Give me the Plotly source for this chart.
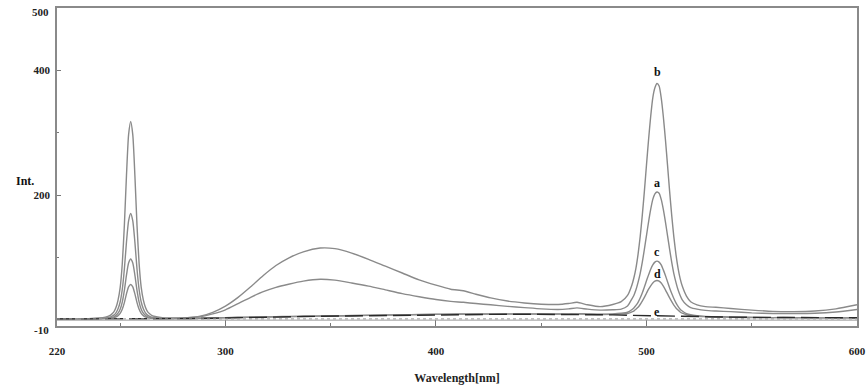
import plotly.graph_objects as go

# Emission spectra, wavelength in nm, intensity in arbitrary units
wavelength = [220, 228, 235, 240, 243,
              245, 246, 247, 248, 249, 250, 251, 252, 253, 254, 255, 256, 257, 258, 259, 260, 261, 262, 263, 264, 265, 266,
              270, 276, 282, 288, 294, 300, 306, 312, 318, 324, 330, 337, 345, 352, 360, 368, 376, 384, 392, 400,
              407, 413, 419, 426, 434, 442, 450, 458, 463, 467, 472, 478, 484, 488, 491, 493,
              494, 495, 496, 497, 498, 499, 500, 501, 502, 503, 504, 505, 506, 507, 508, 509, 510, 511, 512, 513,
              514, 515, 516, 517,
              519, 521, 524, 528, 533, 540, 550, 560, 570, 580, 590, 600]

int_a = [1.5, 1.5, 1.6, 2, 2.8,
         4.2, 5.5, 7.4, 11, 17.5, 28.5, 48.5, 81.5, 124.5, 158.5, 170.5, 158.5, 124.5, 81.5, 48.5, 28.5, 17.5, 11,
         7.5, 5.5, 4.2, 3.5,
         2.5, 2.2, 2.8, 4.8, 9.5, 16, 26, 36, 45, 52, 57, 62, 65, 63.5, 59, 54, 48, 42, 37, 32.5,
         29.5, 28, 26, 24, 21.5, 19.5, 17.5, 16.5, 17.5, 19, 17, 15.5, 16, 17, 22, 33,
         39, 48, 60, 74, 92, 113, 135, 157, 177, 193, 202, 205, 203, 193, 177, 157, 135, 113, 92, 74, 60, 48, 39, 32,
         24, 19.5, 17, 15, 14, 13, 11, 10, 10, 10.5, 12.5, 16.5]

int_b = [1.5, 1.5, 1.8, 2.8, 4.3,
         6.5, 9, 12.5, 19.5, 31.5, 51.5, 89.5, 151.5, 231.5, 296.5, 318, 296.5, 231.5, 151.5, 90, 52, 32, 20,
         13, 9.5, 7, 5.7,
         3.5, 3, 3.5, 5.8, 12, 22, 36, 53, 71, 87, 99, 109, 115, 114, 107, 97, 86, 75, 64, 55.5,
         49, 46.5, 41, 35, 30, 27, 25, 24.5, 26, 28, 24, 21, 24.5, 29, 39, 55,
         67, 83, 105, 133, 167, 206, 248, 289, 326, 356, 372, 379, 375, 356, 326, 289, 248, 206, 167, 133, 105, 83,
         66, 54,
         38, 29, 24, 21, 20, 18, 15.5, 13.5, 13, 14, 17.5, 24]

int_c = [1.5, 1.5, 1.6, 1.8, 2.3,
         3, 3.8, 4.8, 7, 10.6, 16.7, 28.2, 47, 71.5, 91, 97.5, 91, 71.5, 47, 28.2, 16.7, 10.6, 7, 4.8, 3.8, 3, 2.6,
         2, 2, 2, 2.5, 3, 3.5, 4, 4.3, 4.6, 5, 5.3, 5.7, 6, 6.3, 6.8, 7.2, 7.6, 8, 8.4, 8.8,
         9, 9.3, 9.3, 9.4, 9.4, 9.4, 9.4, 9.3, 9.5, 9.8, 9.4, 9, 9.5, 10.5, 12, 16,
         19, 23, 28, 35, 43, 52.5, 62.5, 72, 81, 88, 92.5, 94, 92.5, 88, 80, 71, 61, 51, 42, 34, 27, 21.5, 17, 14,
         10, 8, 6.5, 5.5, 5, 4.5, 4, 3.5, 3.5, 3, 3, 3]

int_d = [1.5, 1.5, 1.5, 1.6, 1.9,
         2.4, 2.8, 3.4, 4.6, 6.7, 10.2, 16.8, 27.5, 41.5, 52.7, 56.5, 52.7, 41.5, 27.5, 16.8, 10.2, 6.7, 4.6, 3.4,
         2.8, 2.4, 2.1,
         1.8, 1.8, 1.8, 2.2, 2.7, 3.2, 3.7, 4, 4.3, 4.7, 5, 5.4, 5.8, 6.1, 6.5, 7, 7.4, 7.8, 8.2, 8.6,
         8.8, 9, 9, 9.1, 9.1, 9.1, 9.1, 9, 9.1, 9.3, 9, 8.5, 8.7, 9.2, 10, 12.5,
         14, 17, 20, 24.5, 30, 36, 42.5, 49, 54.5, 59, 62, 63, 62, 59, 54, 48, 41.5, 35, 29, 23.5, 19, 15.5, 12.5,
         10.5,
         8, 6.5, 5.5, 5, 4.5, 4, 3.5, 3.5, 3.5, 3, 3, 3]

int_e = [1.2, 1.2, 1.3, 1.3, 1.4,
         1.4, 1.4, 1.4, 1.4, 1.4, 1.5, 1.5, 1.5, 1.5, 1.5, 1.5, 1.5, 1.5, 1.5, 1.5, 1.5, 1.5, 1.5, 1.5, 1.5, 1.5, 1.5,
         1.5, 1.5, 1.6, 2, 2.5, 3, 3.5, 3.8, 4.2, 4.5, 4.8, 5.2, 5.6, 5.9, 6.3, 6.8, 7.2, 7.6, 8, 8.4,
         8.6, 8.8, 8.8, 8.9, 8.9, 8.9, 8.9, 8.8, 8.8, 8.9, 8.7, 8.3, 7.8, 7.4, 7.2, 7,
         6.9, 6.8, 6.7, 6.6, 6.5, 6.4, 6.2, 6.1, 6, 5.9, 5.8, 5.8, 5.7, 5.7, 5.6, 5.5, 5.5, 5.4, 5.4, 5.3, 5.3, 5.2,
         5.2, 5.2,
         5.1, 5, 4.9, 4.6, 4.4, 4.2, 3.9, 3.7, 3.5, 3.4, 3.3, 3.2]

curve_names = ["a", "b", "c", "d", "e"]
x_ticks = [220, 300, 400, 500, 600]
x_minor = [250, 350, 450, 550]
y_ticks = [200, 400]
y_minor = [100, 300]

SERIF = "Liberation Serif, Times New Roman, serif"
GREY = "#8a8a8a"

series = dict(zip(curve_names, [int_a, int_b, int_c, int_d, int_e]))

fig = go.Figure()

# zero reference lines along the bottom of the trace area
fig.add_shape(type="line", xref="x", yref="y", x0=220, x1=600, y0=-0.6, y1=-0.6,
              line=dict(color="#9a9a9a", width=1))
fig.add_shape(type="line", xref="x", yref="y", x0=220, x1=600, y0=1.4, y1=1.4,
              line=dict(color="#9a9a9a", width=1, dash="dot"))

for name in ["a", "b", "c", "d"]:
    fig.add_trace(go.Scatter(x=wavelength, y=series[name], mode="lines", name=name,
                             line=dict(color=GREY, width=1.4, shape="spline", smoothing=0.6),
                             showlegend=False, hoverinfo="skip"))
fig.add_trace(go.Scatter(x=wavelength, y=series["e"], mode="lines", name="e",
                         line=dict(color="#2a2a2a", width=1.4, dash="18px,6px"),
                         showlegend=False, hoverinfo="skip"))

# curve letters above the ~505 nm emission maxima
label_shift = {"b": 11, "a": 9, "c": 9, "d": 6}
for name, shift in label_shift.items():
    ys = series[name]
    peak_idx = max(range(len(wavelength)),
                   key=lambda i: ys[i] if 490 <= wavelength[i] <= 520 else -1e9)
    fig.add_annotation(x=wavelength[peak_idx], y=ys[peak_idx], yshift=shift, text=f"<b>{name}</b>",
                       showarrow=False, font=dict(family=SERIF, size=12, color="#111"))
fig.add_annotation(x=505, y=13, text="<b>e</b>", showarrow=False,
                   font=dict(family=SERIF, size=12, color="#111"))

# axis end labels
fig.add_annotation(xref="paper", yref="y", x=0, y=-10, xanchor="right", xshift=-6, yshift=-4,
                   text="<b>-10</b>", showarrow=False, font=dict(family=SERIF, size=11, color="#222"))
fig.add_annotation(xref="paper", yref="y", x=0, y=500, xanchor="right", xshift=-6, yshift=-4,
                   text="<b>500</b>", showarrow=False, font=dict(family=SERIF, size=11, color="#222"))

fig.add_annotation(xref="paper", yref="paper", x=0, y=0.455, xanchor="center", xshift=-32,
                   text="<b>Int.</b>", showarrow=False, font=dict(family=SERIF, size=12, color="#111"))

fig.update_layout(
    width=866, height=386,
    margin=dict(l=57, r=9, t=8, b=60, autoexpand=False),
    paper_bgcolor="white", plot_bgcolor="white",
    font=dict(family=SERIF, size=11, color="#222"),
    xaxis=dict(range=[220, 600], tickvals=x_ticks, ticktext=[f"<b>{v}</b>" for v in x_ticks],
               ticks="inside", ticklen=6, tickcolor="#777", tickwidth=1,
               minor=dict(tickvals=x_minor, ticks="inside", ticklen=3, tickcolor="#777"),
               showgrid=False, zeroline=False, showline=True, linecolor=GREY, linewidth=1.5,
               mirror=True, ticklabelstandoff=14, automargin=False,
               title=dict(text="<b>Wavelength[nm]</b>", font=dict(family=SERIF, size=12, color="#222"),
                          standoff=18)),
    yaxis=dict(range=[-10, 500], tickvals=y_ticks, ticktext=[f"<b>{v}</b>" for v in y_ticks],
               ticks="inside", ticklen=4, tickcolor="#777", tickwidth=1,
               minor=dict(tickvals=y_minor, ticks="inside", ticklen=2, tickcolor="#777"),
               showgrid=False, zeroline=False, showline=True, linecolor=GREY, linewidth=1.5,
               mirror=True, ticklabelstandoff=3, automargin=False),
)

fig.write_html("out.html")
